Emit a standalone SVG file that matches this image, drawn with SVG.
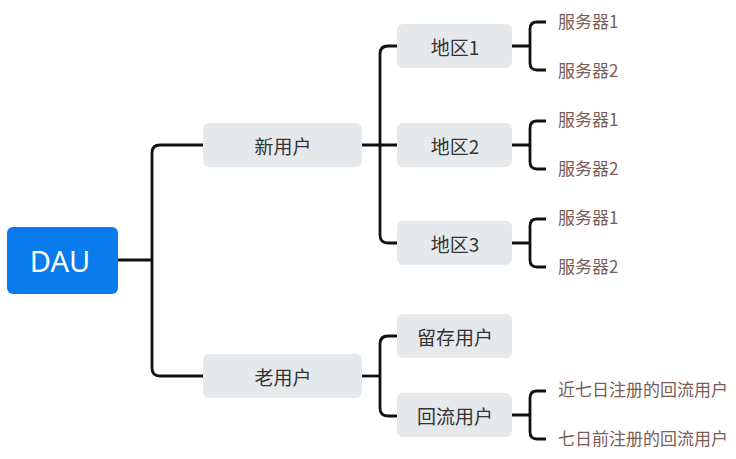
<svg xmlns="http://www.w3.org/2000/svg" width="736" height="459" viewBox="0 0 736 459">
<style>
.ln{fill:none;stroke:#111;stroke-width:2.8;stroke-linejoin:round}
.box{fill:#e6e9ec}
.t{font-family:"Noto Sans CJK SC","Noto Sans",sans-serif;font-size:19px;fill:#333;text-anchor:middle;dominant-baseline:central}
.leaf{font-family:"Noto Sans CJK SC","Noto Sans",sans-serif;font-size:17px;fill:#7a5d56;dominant-baseline:central}
</style>
<rect width="736" height="459" fill="#fff"/>
<g id="connectors">
<path class="ln" d="M118 260H152"/>
<path class="ln" d="M203 145H160Q152 145 152 153V368Q152 376 160 376H203"/>
<path class="ln" d="M362 145H397"/>
<path class="ln" d="M397 46H388Q380 46 380 54V235Q380 243 388 243H397"/>
<path class="ln" d="M362 376H380"/>
<path class="ln" d="M397 336H388Q380 336 380 344V408Q380 416 388 416H397"/>
<path class="ln" d="M512 46H530M546 22H537Q530 22 530 29V63Q530 70 537 70H546"/>
<path class="ln" d="M512 145H530M546 121H537Q530 121 530 128V162Q530 169 537 169H546"/>
<path class="ln" d="M512 243H530M546 219H537Q530 219 530 226V260Q530 267 537 267H546"/>
<path class="ln" d="M512 415H530M546 391H537Q530 391 530 398V432Q530 439 537 439H546"/>
</g>
<g id="dau"><rect x="7" y="227" width="111" height="67" rx="6" fill="#0a7bec"/><text x="60" y="260" font-family="'Noto Sans','Liberation Sans',sans-serif" font-size="29" fill="#fff" text-anchor="middle" dominant-baseline="central">DAU</text></g>
<g id="new"><rect class="box" x="203" y="123" width="159" height="44" rx="6"/><text class="t" x="283" y="145">新用户</text></g>
<g id="old"><rect class="box" x="203" y="354" width="159" height="44" rx="6"/><text class="t" x="283" y="376">老用户</text></g>
<g id="r1"><rect class="box" x="397" y="24" width="115" height="44" rx="6"/><text class="t" x="455" y="46">地区1</text></g>
<g id="r2"><rect class="box" x="397" y="123" width="115" height="44" rx="6"/><text class="t" x="455" y="145">地区2</text></g>
<g id="r3"><rect class="box" x="397" y="221" width="115" height="44" rx="6"/><text class="t" x="455" y="243">地区3</text></g>
<g id="keep"><rect class="box" x="397" y="314" width="115" height="44" rx="6"/><text class="t" x="455" y="336">留存用户</text></g>
<g id="back"><rect class="box" x="397" y="393" width="115" height="44" rx="6"/><text class="t" x="455" y="415">回流用户</text></g>
<g id="leaves">
<text class="leaf" x="558" y="20">服务器1</text>
<text class="leaf" x="558" y="69">服务器2</text>
<text class="leaf" x="558" y="118">服务器1</text>
<text class="leaf" x="558" y="167">服务器2</text>
<text class="leaf" x="558" y="216">服务器1</text>
<text class="leaf" x="558" y="265">服务器2</text>
<text class="leaf" x="558" y="388">近七日注册的回流用户</text>
<text class="leaf" x="558" y="437">七日前注册的回流用户</text>
</g>
</svg>
